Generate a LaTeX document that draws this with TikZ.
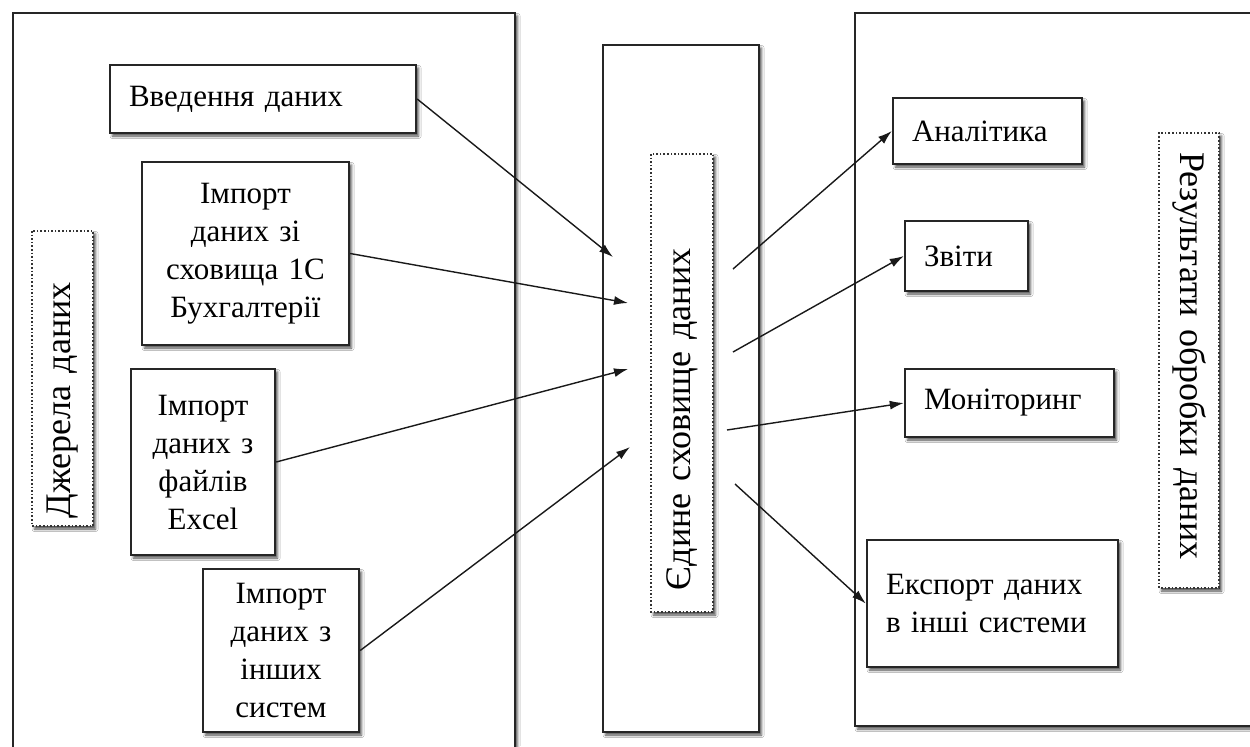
\documentclass[tikz,border=0pt]{standalone}
\usepackage{fontspec}
\setmainfont{Liberation Serif}
\usetikzlibrary{arrows.meta,shadows.blur}
\begin{document}
\begin{tikzpicture}[x=0.5pt,y=-0.5pt,
  soft/.style={blur shadow={shadow xshift=1.3pt,shadow yshift=-1.5pt,shadow blur radius=1.3pt,shadow opacity=70}},
  frame/.style={draw=black!85,line width=1.2pt,fill=white,soft,inner sep=0pt},
  box/.style={frame,font=\fontsize{15.5}{19}\selectfont},
  lbox/.style={box,align=left,inner xsep=9.5pt,inner ysep=0pt},
  cbox/.style={box,align=center,inner xsep=2pt,inner ysep=0pt},
  lab/.style={draw=black!80,densely dotted,line width=0.8pt,fill=white,soft,
    font=\fontsize{18}{20}\selectfont,align=left,inner ysep=0pt},
  arr/.style={-{Latex[length=7pt,width=4.5pt]},line width=0.7pt,black!90}]
\useasboundingbox[fill=white] (0,0) rectangle (1250,746);

% containers
\node[frame,minimum width=251pt,minimum height=373.5pt] (src) at (264,386.5) {};
\node[frame,minimum width=78pt,minimum height=343.5pt] (store) at (681,388.5) {};
\node[frame,minimum width=202.5pt,minimum height=356.5pt] (res) at (1057.5,369.5) {};

% container captions
\node[lab,rotate=90,minimum height=30.5pt,text width=139.5pt,inner xsep=4pt] (srcl) at (62.5,378.5) {Джерела даних};
\node[lab,rotate=90,minimum height=31pt,text width=207pt,inner xsep=11pt] (storel) at (682,383) {Єдине сховище даних};
\node[lab,rotate=-90,minimum height=30pt,text width=208.5pt,inner xsep=9.5pt] (resl) at (1189,360.5) {Результати обробки даних};

% data sources
\node[lbox,minimum height=34pt,text width=134pt] (in1) at (263,99) {Введення даних};
\node[cbox,minimum height=91.5pt,text width=99.5pt] (in2) at (245.5,253.5) {Імпорт\\даних зі\\сховища 1С\\Бухгалтерії};
\node[cbox,minimum height=93pt,text width=68pt] (in3) at (203,462) {Імпорт\\даних з\\файлів\\Excel};
\node[cbox,minimum height=81.5pt,text width=74pt] (in4) at (281,650.5) {Імпорт\\даних з\\інших\\систем};

% results
\node[lbox,minimum height=33pt,text width=75.5pt] (out1) at (987.5,131) {Аналітика};
\node[lbox,minimum height=35pt,text width=42.5pt] (out2) at (966.5,256) {Звіти};
\node[lbox,minimum height=34pt,text width=85.5pt] (out3) at (1009.5,403) {Моніторинг};
\node[lbox,minimum height=63.5pt,text width=106.5pt] (out4) at (992.5,603.5) {Експорт даних\\в інші системи};

% arrow ends inside the storage
\coordinate (t1) at (613,257);
\coordinate (t2) at (628,303);
\coordinate (t3) at (628,369);
\coordinate (t4) at (630,447);
\coordinate (s1) at (733,269);
\coordinate (s2) at (733,352);
\coordinate (s3) at (727,430);
\coordinate (s4) at (735,484);

\draw[arr] (in1.east) -- (t1);
\draw[arr] (in2.east) -- (t2);
\draw[arr] (in3.east) -- (t3);
\draw[arr] (in4.east) -- (t4);
\draw[arr] (s1) -- (out1.west);
\draw[arr] (s2) -- (out2.west);
\draw[arr] (s3) -- (out3.west);
\draw[arr] (s4) -- (out4.west);
\end{tikzpicture}
\end{document}
